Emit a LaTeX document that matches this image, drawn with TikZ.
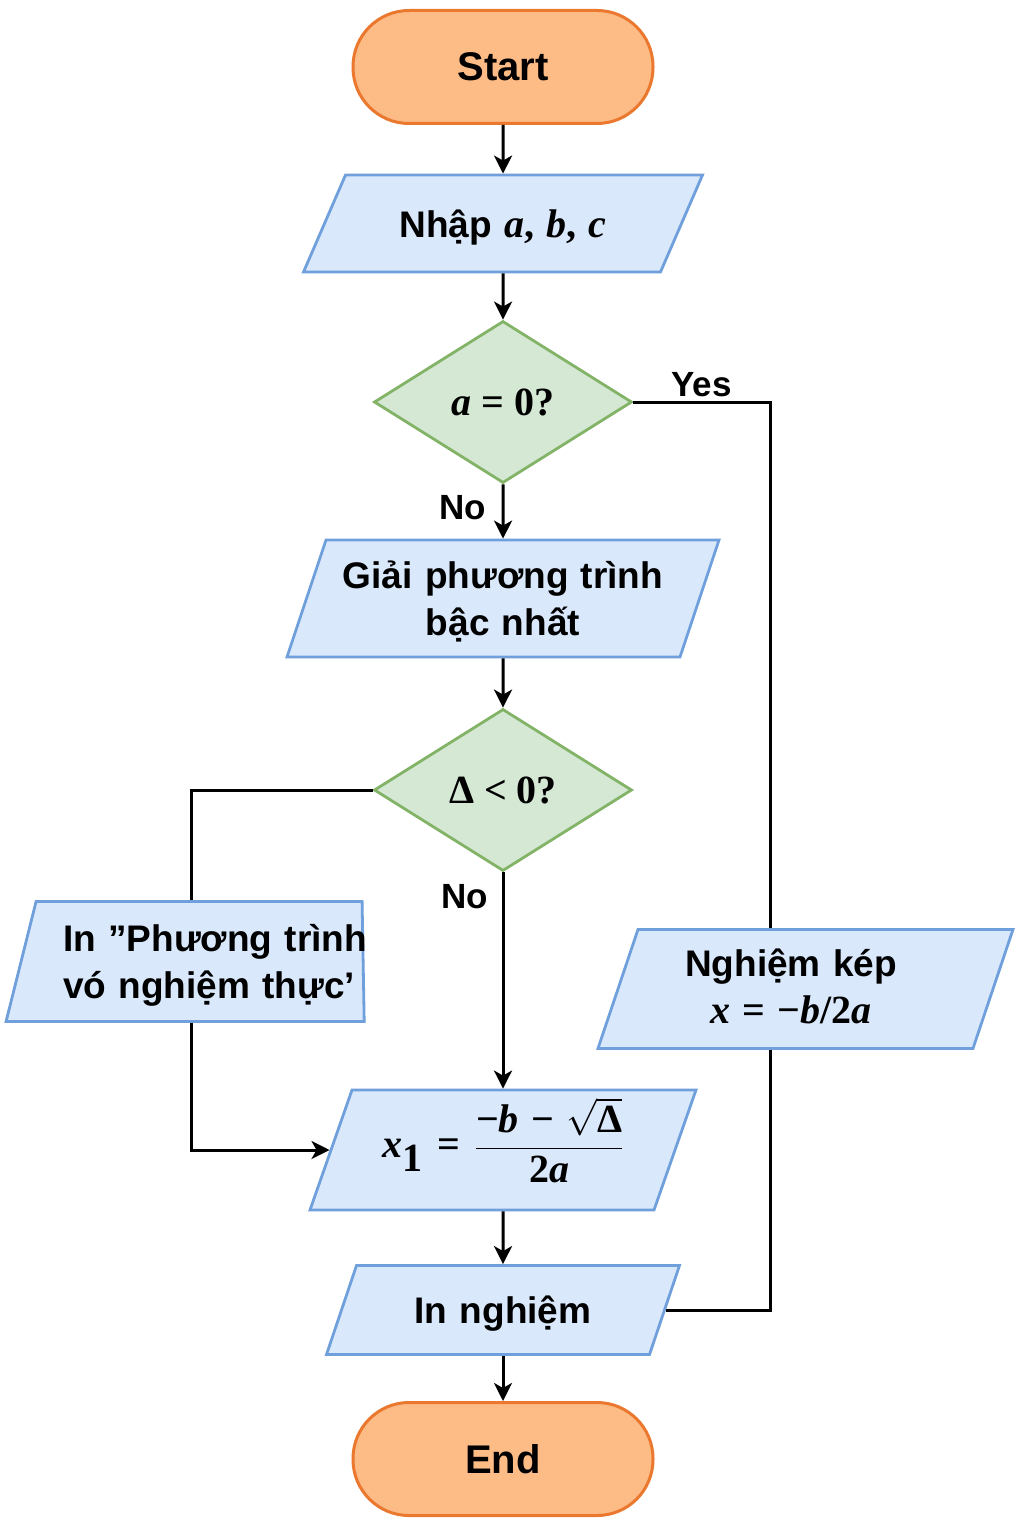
\RequirePackage{fix-cm}
\documentclass[tikz,border=0pt]{standalone}
\usepackage{amsmath}
\usepackage[no-math]{fontspec}
\setmainfont{Liberation Sans}
\newfontfamily\mathface{Liberation Serif}
\newcommand{\mf}{\mathface\bfseries\fontsize{40}{47}\selectfont}
\usetikzlibrary{shapes.geometric,arrows.meta}
\definecolor{term-fill}{RGB}{253,187,134}
\definecolor{term-line}{RGB}{234,120,46}
\definecolor{io-fill}{RGB}{218,232,252}
\definecolor{io-line}{RGB}{111,160,220}
\definecolor{dec-fill}{RGB}{213,232,212}
\definecolor{dec-line}{RGB}{130,179,102}

\tikzset{
    terminal/.style={draw=term-line, fill=term-fill, line width=3pt, rectangle, rounded corners=56pt, minimum width=300pt, minimum height=113pt, font=\fontsize{40}{47}\selectfont\bfseries},
    io/.style={draw=io-line, fill=io-fill, line width=2.8pt, trapezium, inner sep=0pt, align=center},
    decision/.style={draw=dec-line, fill=dec-fill, line width=2.8pt, diamond, inner sep=0pt, minimum width=258pt, minimum height=162pt},
    flow/.style={line width=3pt, -{Stealth[length=18pt,width=18pt,inset=5pt]}},
    rail/.style={line width=3pt},
    tag/.style={font=\fontsize{35}{42}\selectfont\bfseries}
}

\begin{document}
\begin{tikzpicture}[x=1pt, y=-1pt, font=\fontsize{37}{47}\selectfont\bfseries]
    \useasboundingbox (0,0) rectangle (1024,1536);

    \node[terminal] (start) at (503,67) {Start};
    \node[io, trapezium left angle=66.59, trapezium right angle=113.41, text width=315pt, text height=62pt, text depth=35pt] (read) at (503,223.5) {Nhập {\mf\textit{a}, \textit{b}, \textit{c}}};
    \node[decision] (isa) at (503,402) {{\mf\textit{a} = 0?}};
    \node[io, trapezium left angle=71.57, trapezium right angle=108.43, text width=354pt, text height=48.5pt, text depth=68.5pt] (linear) at (503,598.5) {Giải phương trình\\bậc nhất};
    \node[decision] (delta) at (503,790) {{\mf Δ < 0?}};
    \node[io, anchor=top left corner, trapezium left angle=75.96, trapezium right angle=89, text width=326pt, text height=50pt, text depth=70pt, align=left] (nosol) at (35,900)
        {\hspace*{27pt}\mbox{In ”Phương trình}\\\hspace*{27pt}\mbox{vó nghiệm thực’}};
    \node[io, anchor=top left corner, trapezium left angle=71.42, trapezium right angle=108.58, text width=335pt, text height=47pt, text depth=72pt] (double) at (637,928)
        {\hspace*{-29pt}Nghiệm kép\\\hspace*{-29pt}{\mf\textit{x} = −\textit{b}/2\textit{a}}};
    \node[io, trapezium left angle=70.71, trapezium right angle=109.29, text width=302pt, text height=67.5pt, text depth=52.5pt] (root) at (503,1150)
        {$\text{\mf\textit{x}}_{\text{\mf 1}}\mathrel{\text{\mf =}}\dfrac{\text{\mf −\textit{b} − }\sqrt{\text{\mf Δ}}}{\text{\mf 2\textit{a}}}$};
    \node[io, trapezium left angle=71.37, trapezium right angle=108.63, text width=293pt, text height=58pt, text depth=31pt] (print) at (503,1310) {In nghiệm};
    \node[terminal] (stop) at (503,1459) {End};

    \coordinate (rrail) at (770,402);
    \coordinate (lrail) at (191,790);

    \draw[flow] (start) -- (read);
    \draw[flow] (read) -- (isa);
    \draw[flow] (isa) -- node[tag, left, pos=0.42, xshift=-12pt] {No} (linear);
    \draw[rail] (isa.east) -- node[tag, above] {Yes} (rrail) -- (double.north -| rrail);
    \draw[rail] (double.south -| rrail) |- (print.east);
    \draw[flow] (linear) -- (delta);
    \draw[rail] (delta.west) -- (lrail) -- (nosol.north -| lrail);
    \draw[flow] (nosol.south -| lrail) |- (root.west);
    \draw[flow] (delta) -- node[tag, left, pos=0.11, xshift=-10pt] {No} (root);
    \draw[flow] (root) -- (print);
    \draw[flow] (print) -- (stop);
\end{tikzpicture}
\end{document}
